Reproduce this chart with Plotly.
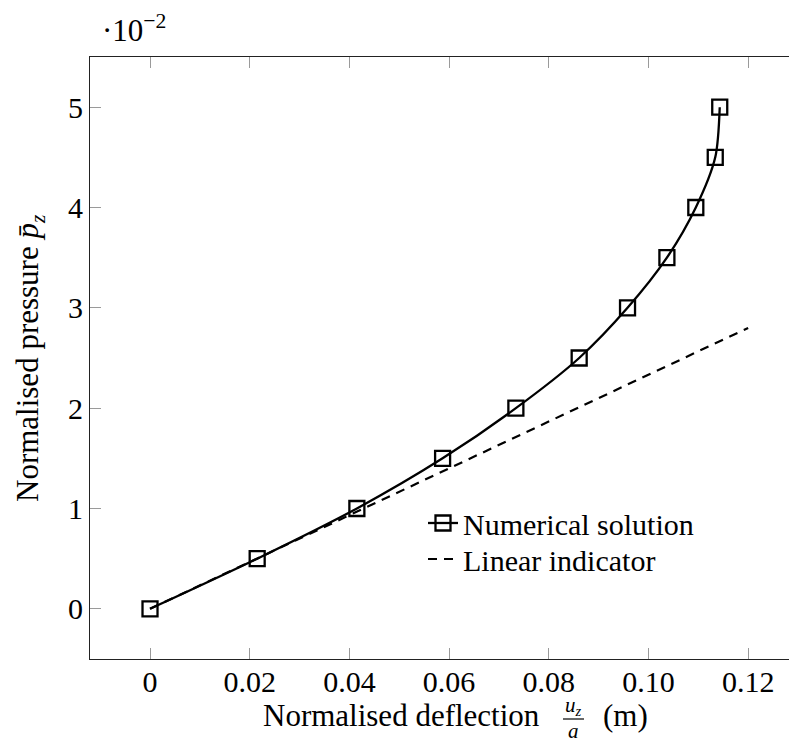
import plotly.graph_objects as go

# ---- data ----
pressure = [0.0, 0.5, 1.0, 1.5, 2.0, 2.5, 3.0, 3.5, 4.0, 4.5, 5.0]  # x 10^-2
deflection = [0.0, 0.0215, 0.0415, 0.0587, 0.0734, 0.0861, 0.0958, 0.1037, 0.1095, 0.1134, 0.1143]
linear_x = [0.0, 0.12]
linear_y = [0.0, 2.8]
x_ticks = [0, 0.02, 0.04, 0.06, 0.08, 0.10, 0.12]
x_ticklabels = ["0", "0.02", "0.04", "0.06", "0.08", "0.10", "0.12"]
y_ticks = [0, 1, 2, 3, 4, 5]
y_ticklabels = ["0", "1", "2", "3", "4", "5"]

OFF = 8  # page body margin
W, H = 797 - OFF, 747 - OFF
L, R, T, B = 90 - OFF, 0, 57 - OFF, 747 - 659
FONT = "Liberation Serif"
FS = 30
FT = 31

PL, PR, PT, PB = 90, 797, 57, 659  # plot area in page pixels


def px(x):
    return (x - PL) / (PR - PL)


def py(y):
    return (PB - y) / (PB - PT)


fig = go.Figure()
fig.add_trace(go.Scatter(
    x=deflection, y=pressure, mode="lines+markers", name="Numerical solution",
    line=dict(color="black", width=2.3, shape="spline", smoothing=0.8),
    marker=dict(symbol="square-open", size=15, color="black", line=dict(width=2.3, color="black")),
    legend="legend",
))
fig.add_trace(go.Scatter(
    x=linear_x, y=linear_y, mode="lines", name="Linear indicator",
    line=dict(color="black", width=2.2, dash="9px,7px"),
    legend="legend2",
))

axis_common = dict(
    showgrid=False, zeroline=False, showline=True, linecolor="#222", linewidth=1.2,
    ticks="inside", ticklen=11, tickwidth=1.2, tickcolor="#9a9a9a",
    tickfont=dict(family=FONT, size=FS, color="black"),
)
fig.update_xaxes(range=[-0.01204, 0.1298], tickvals=x_ticks, ticktext=x_ticklabels,
                 mirror="ticks", ticklabelstandoff=-4, **axis_common)
fig.update_yaxes(range=[-0.5, 5.5], tickvals=y_ticks, ticktext=y_ticklabels,
                 mirror=False, **axis_common)

ann = []
ann.append(dict(text="Normalised pressure <i>p̄</i><sub><i>z</i></sub>", x=px(30), y=py(358),
                xref="paper", yref="paper", showarrow=False, textangle=-90,
                font=dict(family=FONT, size=FT, color="black"), xanchor="center", yanchor="middle"))
ann.append(dict(text="Normalised deflection", x=px(542), y=py(715),
                xref="paper", yref="paper", showarrow=False,
                font=dict(family=FONT, size=FT, color="black"), xanchor="right", yanchor="middle"))
ann.append(dict(text="<i>u<sub>z</sub></i>", x=px(573), y=py(706),
                xref="paper", yref="paper", showarrow=False,
                font=dict(family=FONT, size=21, color="black"), xanchor="center", yanchor="middle"))
ann.append(dict(text="<i>a</i>", x=px(573), y=py(731),
                xref="paper", yref="paper", showarrow=False,
                font=dict(family=FONT, size=21, color="black"), xanchor="center", yanchor="middle"))
ann.append(dict(text="(m)", x=px(601), y=py(715),
                xref="paper", yref="paper", showarrow=False,
                font=dict(family=FONT, size=FT, color="black"), xanchor="left", yanchor="middle"))
ann.append(dict(text="·10<sup>−2</sup>", x=px(100), y=py(28),
                xref="paper", yref="paper", showarrow=False,
                font=dict(family=FONT, size=FT, color="black"), xanchor="left", yanchor="middle"))

legend_common = dict(xanchor="left", yanchor="top", bgcolor="rgba(0,0,0,0)", borderwidth=0,
                     font=dict(family=FONT, size=FS, color="black"))

fig.update_layout(
    width=W, height=H, autosize=False,
    margin=dict(l=L, r=R, t=T, b=B, pad=0),
    paper_bgcolor="white", plot_bgcolor="white",
    font=dict(family=FONT, size=FS, color="black"),
    annotations=ann,
    shapes=[dict(type="line", xref="paper", yref="paper", x0=px(563), x1=px(584),
                 y0=py(719), y1=py(719), line=dict(color="black", width=1.2))],
    legend=dict(x=px(423), y=py(497), **legend_common),
    legend2=dict(x=px(423), y=py(533), **legend_common),
    showlegend=True,
)

fig.write_html("out.html")
